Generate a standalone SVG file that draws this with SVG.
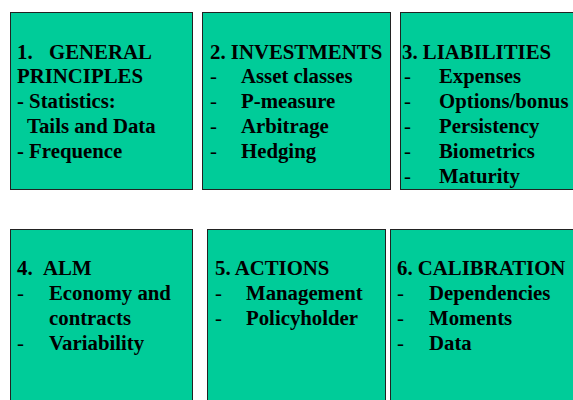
<svg xmlns="http://www.w3.org/2000/svg" width="573" height="400" viewBox="0 0 573 400">
<style>
.box{fill:#00CC99;stroke:#222;stroke-width:1}
text{font-family:"Liberation Serif","Times New Roman",serif;font-size:20.8px;font-weight:bold;fill:#000}
.d{font-weight:normal}
</style>
<rect width="573" height="400" fill="#fff"/>
<g id="n1">
<rect class="box" x="10.5" y="12.5" width="182" height="177"/>
<text x="17" y="59">1.</text><text x="49" y="59">GENERAL</text>
<text x="17" y="83">PRINCIPLES</text>
<text x="17" y="108">- Statistics:</text>
<text x="27" y="133">Tails and Data</text>
<text x="17" y="158">- Frequence</text>
</g>
<g id="n2">
<rect class="box" x="202.5" y="12.5" width="188" height="177"/>
<text x="210" y="59">2. INVESTMENTS</text>
<text class="d" x="210" y="83">-</text><text x="241" y="83">Asset classes</text>
<text class="d" x="210" y="108">-</text><text x="241" y="108">P-measure</text>
<text class="d" x="210" y="133">-</text><text x="241" y="133">Arbitrage</text>
<text class="d" x="210" y="158">-</text><text x="241" y="158">Hedging</text>
</g>
<g id="n3">
<rect class="box" x="400.5" y="12.5" width="180" height="177"/>
<text x="402" y="59">3. LIABILITIES</text>
<text class="d" x="404" y="83">-</text><text x="439" y="83">Expenses</text>
<text class="d" x="404" y="108">-</text><text x="439" y="108">Options/bonus</text>
<text class="d" x="404" y="133">-</text><text x="439" y="133">Persistency</text>
<text class="d" x="404" y="158">-</text><text x="439" y="158">Biometrics</text>
<text class="d" x="404" y="183">-</text><text x="439" y="183">Maturity</text>
</g>
<g id="n4">
<rect class="box" x="10.5" y="229.5" width="182" height="180"/>
<text x="17" y="275">4.</text><text x="43" y="275">ALM</text>
<text class="d" x="17" y="300">-</text><text x="49" y="300">Economy and</text>
<text x="49" y="325">contracts</text>
<text class="d" x="17" y="350">-</text><text x="49" y="350">Variability</text>
</g>
<g id="n5">
<rect class="box" x="207.5" y="229.5" width="178" height="180"/>
<text x="215" y="275">5. ACTIONS</text>
<text class="d" x="215" y="300">-</text><text x="246" y="300">Management</text>
<text class="d" x="215" y="325">-</text><text x="246" y="325">Policyholder</text>
</g>
<g id="n6">
<rect class="box" x="390.5" y="229.5" width="190" height="180"/>
<text x="397" y="275">6. CALIBRATION</text>
<text class="d" x="397" y="300">-</text><text x="429" y="300">Dependencies</text>
<text class="d" x="397" y="325">-</text><text x="429" y="325">Moments</text>
<text class="d" x="397" y="350">-</text><text x="429" y="350">Data</text>
</g>
</svg>
